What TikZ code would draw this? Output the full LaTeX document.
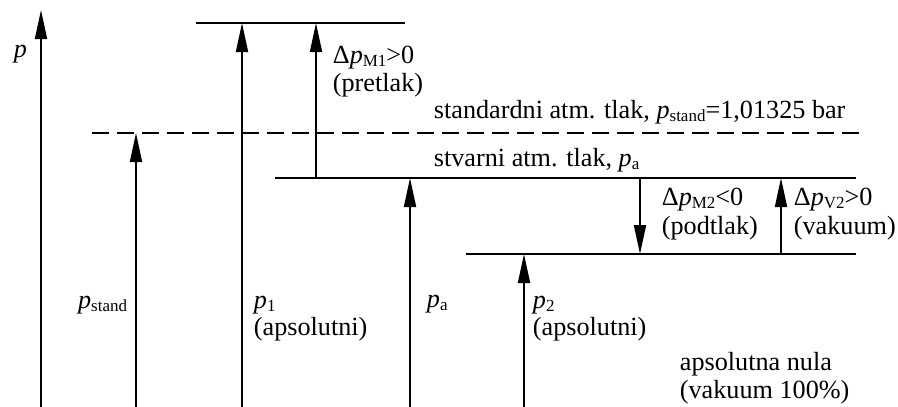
\documentclass[tikz,border=0pt]{standalone}
\usepackage{fontspec}
\setmainfont{Liberation Serif}
\usetikzlibrary{arrows.meta}
\newcommand{\lowsub}[1]{\raisebox{-3pt}{\fontsize{17}{18}\selectfont #1}}
\newcommand{\pvar}{\textit{p}}
\begin{document}
\begin{tikzpicture}[x=1pt,y=-1pt,line width=1.8pt,
  arr/.style={-{Triangle[length=29pt,width=12pt]}},
  lvl/.style={line width=1.8pt},
  dashlvl/.style={line width=1.8pt,dash pattern=on 17pt off 8pt},
  lbl/.style={anchor=base west,inner sep=0pt,font=\fontsize{26.2}{30}\selectfont},
  lblr/.style={anchor=base east,inner sep=0pt,font=\fontsize{26.2}{30}\selectfont}]
\useasboundingbox (0,0) rectangle (898,407);
% level lines
\coordinate (T1) at (196,23);  \coordinate (T2) at (405,23);
\coordinate (D1) at (92,133);  \coordinate (D2) at (862,133);
\coordinate (A1) at (275,178); \coordinate (A2) at (856,178);
\coordinate (B1) at (466,254); \coordinate (B2) at (856,254);
\draw[lvl] (T1) -- (T2);
\draw[dashlvl] (D1) -- (D2);
\draw[lvl] (A1) -- (A2);
\draw[lvl] (B1) -- (B2);
% arrows
\coordinate (p0a) at (41,407);  \coordinate (p0b) at (41,10);
\coordinate (psa) at (136,407); \coordinate (psb) at (136,133);
\coordinate (p1a) at (242,407); \coordinate (p1b) at (242,23);
\coordinate (m1a) at (316,178); \coordinate (m1b) at (316,23);
\coordinate (paa) at (410,407); \coordinate (pab) at (410,178);
\coordinate (p2a) at (524,407); \coordinate (p2b) at (524,254);
\coordinate (m2a) at (640,178); \coordinate (m2b) at (640,254);
\coordinate (v2a) at (781,254); \coordinate (v2b) at (781,178);
\draw[arr] (p0a) -- (p0b);
\draw[arr] (psa) -- (psb);
\draw[arr] (p1a) -- (p1b);
\draw[arr] (m1a) -- (m1b);
\draw[arr] (paa) -- (pab);
\draw[arr] (p2a) -- (p2b);
\draw[arr] (m2a) -- (m2b);
\draw[arr] (v2a) -- (v2b);
% labels
\node[lbl] (lp) at (13,57) {\pvar};
\node[lbl] (lm1) at (332,63) {Δ\pvar\lowsub{M1}>0};
\node[lbl] (lm1b) at (332,91) {(pretlak)};
\node[lbl] (lstd) at (433,118) {standardni atm. tlak, \pvar\lowsub{stand}=1,01325 bar};
\node[lbl] (lstv) at (433,166) {stvarni atm. tlak, \pvar\lowsub{a}};
\node[lbl] (lm2) at (661,205) {Δ\pvar\lowsub{M2}<0};
\node[lbl] (lm2b) at (661,234) {(podtlak)};
\node[lbl] (lv2) at (793,205) {Δ\pvar\lowsub{V2}>0};
\node[lbl] (lv2b) at (793,234) {(vakuum)};
\node[lblr] (lps) at (128,308) {\pvar\lowsub{stand}};
\node[lbl] (lp1) at (253,308) {\pvar\lowsub{1}};
\node[lbl] (lp1b) at (253,335) {(apsolutni)};
\node[lbl] (lpa) at (426,307) {\pvar\lowsub{a}};
\node[lbl] (lp2) at (532,308) {\pvar\lowsub{2}};
\node[lbl] (lp2b) at (532,335) {(apsolutni)};
\node[lbl] (lnul) at (679,370) {apsolutna nula};
\node[lbl] (lnulb) at (679,398) {(vakuum 100\%)};
\end{tikzpicture}
\end{document}
